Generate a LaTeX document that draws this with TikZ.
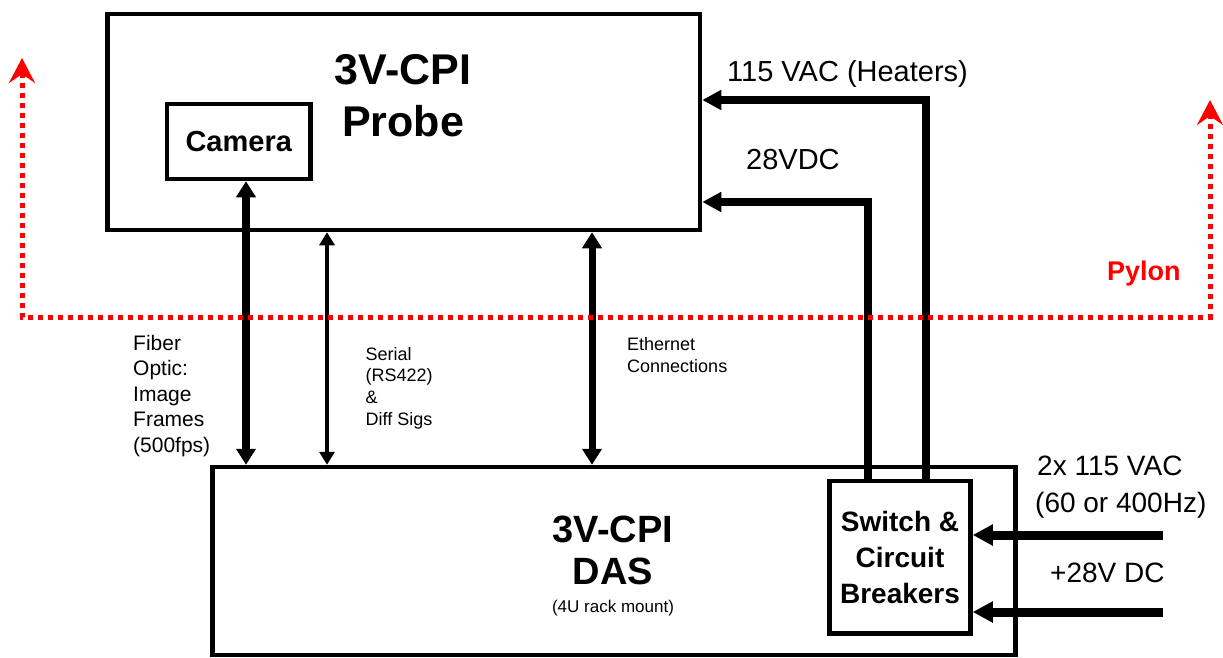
\documentclass[tikz,border=0pt]{standalone}
\usepackage{fontspec}
\setmainfont{Liberation Sans}
\usetikzlibrary{arrows.meta,positioning}
\begin{document}
\begin{tikzpicture}[
  x=1pt, y=-1pt,
  box/.style={draw, line width=4.5pt, inner sep=0pt, align=center},
  big/.style={font=\bfseries\fontsize{43}{52}\selectfont, align=center, inner sep=0pt},
  pwrlbl/.style={font=\fontsize{29}{34}\selectfont, inner sep=0pt, anchor=base west},
  sig/.style={font=\fontsize{18}{21.7}\selectfont, inner sep=0pt, anchor=north west, align=left},
  fat/.style={line width=8pt, {Triangle[length=16pt,width=19pt]}-{Triangle[length=16pt,width=19pt]}},
  slim/.style={line width=4pt, {Triangle[length=13pt,width=15pt]}-{Triangle[length=13pt,width=15pt]}},
  pwr/.style={line width=8pt, -{Triangle[length=19pt,width=19pt]}},
  feed/.style={line width=9pt, -{Triangle[length=20pt,width=20pt]}},
  pylon/.style={red, line width=5pt, dash pattern=on 5pt off 5pt, {Stealth[length=25pt,width=26pt,inset=9pt]}-{Stealth[length=25pt,width=26pt,inset=9pt]}}
]
\useasboundingbox (0,0) rectangle (1223,658);
\node[box, minimum width=592.5pt, minimum height=216pt] (probe) at (403.75,122) {};
\node[big, anchor=north] (probetitle) at (403,54) {3V-CPI\\Probe};
\node[box, font=\bfseries\fontsize{29}{34}\selectfont, minimum width=143.5pt, minimum height=75pt] (camera) at (238.75,141.5) {Camera};
\node[box, minimum width=803pt, minimum height=188pt] (das) at (614,561) {};
\node[big, font=\bfseries\fontsize{38}{42}\selectfont, anchor=north] (dastitle) at (613,515.5) {3V-CPI\\DAS};
\node[font=\fontsize{17}{20}\selectfont, inner sep=0pt, anchor=base] (dasnote) at (613,612) {(4U rack mount)};
\node[box, font=\bfseries\fontsize{28}{36}\selectfont, minimum width=141pt, minimum height=152.5pt] (switch) at (900,557.25) {Switch \&\\Circuit\\Breakers};
\coordinate (fib) at (246,0);
\coordinate (ser) at (327,0);
\coordinate (eth) at (592,0);
\draw[fat] (fib |- camera.south) -- (fib |- das.north);
\draw[slim] (ser |- probe.south) -- (ser |- das.north);
\draw[fat, line width=7pt] (eth |- probe.south) -- (eth |- das.north);
\node[sig, font=\fontsize{21}{25.5}\selectfont] (fiberlbl) at (133,335) {Fiber\\Optic:\\Image\\Frames\\(500fps)};
\node[sig] (seriallbl) at (365.5,347) {Serial\\(RS422)\\\&\\Diff Sigs};
\node[sig, font=\fontsize{18}{22}\selectfont] (ethlbl) at (627,337) {Ethernet\\Connections};
\coordinate (heat) at (926,100);
\coordinate (dc) at (868,202);
\draw[pwr] (heat |- switch.north) |- (heat -| probe.east);
\draw[pwr] (dc |- switch.north) |- (dc -| probe.east);
\node[pwrlbl] (heatlbl) at (727,82) {115 VAC (Heaters)};
\node[pwrlbl] (dclbl) at (746,169) {28VDC};
\coordinate (acin) at (1163,535);
\coordinate (dcin) at (1163,612);
\draw[feed] (acin) -- (acin -| switch.east);
\draw[feed] (dcin) -- (dcin -| switch.east);
\node[pwrlbl, font=\fontsize{28}{33}\selectfont] (aclbl) at (1037,475) {2x 115 VAC};
\node[pwrlbl, font=\fontsize{28}{33}\selectfont] (hzlbl) at (1035,512) {(60 or 400Hz)};
\node[pwrlbl, font=\fontsize{28}{33}\selectfont] (dcinlbl) at (1050,582) {+28V DC};
\coordinate (pyl) at (22,58);
\coordinate (pyc) at (22,317);
\coordinate (pyr) at (1210,100);
\draw[pylon] (pyl) -- (pyc) -| (pyr);
\node[pwrlbl, font=\bfseries\fontsize{27}{32}\selectfont, text=red] (pylonlbl) at (1107,280) {Pylon};
\end{tikzpicture}
\end{document}
